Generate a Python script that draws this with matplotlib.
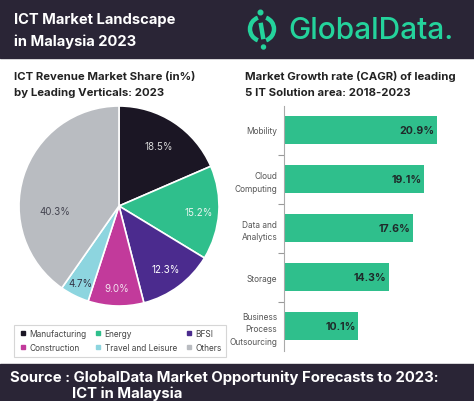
import matplotlib
matplotlib.use("Agg")
import matplotlib.pyplot as plt
from matplotlib.patches import Rectangle, Arc, Circle
from matplotlib.lines import Line2D
import numpy as np

# ---- data ----
pie_labels = ["Manufacturing", "Energy", "BFSI", "Construction", "Travel and Leisure", "Others"]
pie_values = [18.5, 15.2, 12.3, 9.0, 4.7, 40.3]
pie_colors = ["#1b1624", "#2fbf8c", "#4b2b8e", "#c23a9b", "#8dd5df", "#b9bcc1"]
pie_text_colors = ["#d8d8d8", "#e8f5ef", "#ffffff", "#f3e3ef", "#333344", "#444450"]

bar_labels = ["Mobility", "Cloud\nComputing", "Data and\nAnalytics", "Storage", "Business\nProcess\nOutsourcing"]
bar_values = [20.9, 19.1, 17.6, 14.3, 10.1]
bar_color = "#2fbf8c"

W, H = 474, 402
DARK = "#2a2536"
GREEN = "#24d39c"

fig = plt.figure(figsize=(W / 100, H / 100), dpi=100)
fig.patch.set_facecolor("white")

FONT = "Inter"

def box(x0, y0, x1, y1):
    return [x0 / W, 1 - y1 / H, (x1 - x0) / W, (y1 - y0) / H]

# background overlay in pixel coords
bg = fig.add_axes([0, 0, 1, 1], zorder=0)
bg.set_xlim(0, W)
bg.set_ylim(H, 0)
bg.axis("off")
bg.add_patch(Rectangle((0, 0), W, 59, color=DARK))
bg.add_patch(Rectangle((0, 365), W, 37, color=DARK))

bg.text(14, 20, "ICT Market Landscape", color="white", fontsize=10.6, fontweight="bold",
        family=FONT, va="center", ha="left")
bg.text(14, 42, "in Malaysia 2023", color="white", fontsize=10.6, fontweight="bold",
        family=FONT, va="center", ha="left")

# logo
cx, cy, r = 262, 30, 12
bg.add_patch(Arc((cx, cy), 2 * r, 2 * r, theta1=110, theta2=250, color=GREEN, lw=3.2))
bg.add_patch(Arc((cx, cy), 2 * r, 2 * r, theta1=-70, theta2=70, color=GREEN, lw=3.2))
bg.add_line(Line2D([cx - 1, cx + 1], [cy - 4, cy + 8], color=GREEN, lw=3.2))
bg.add_patch(Circle((cx - 1.5, cy - 16.5), 2.3, color=GREEN))
bg.add_patch(Circle((cx + 1.5, cy + 18), 2.0, color=GREEN))
bg.text(288, 31, "GlobalData.", color=GREEN, fontsize=21.5, fontweight="medium",
        family=FONT, va="center", ha="left")

bg.text(14, 77, "ICT Revenue Market Share (in%)", color="#222222", fontsize=8.2,
        fontweight="bold", family=FONT, va="center", ha="left")
bg.text(14, 93, "by Leading Verticals: 2023", color="#222222", fontsize=8.2,
        fontweight="bold", family=FONT, va="center", ha="left")
bg.text(245, 77, "Market Growth rate (CAGR) of leading", color="#222222", fontsize=8.2,
        fontweight="bold", family=FONT, va="center", ha="left")
bg.text(245, 93, "5 IT Solution area: 2018-2023", color="#222222", fontsize=8.2,
        fontweight="bold", family=FONT, va="center", ha="left")

bg.text(10, 378, "Source : GlobalData Market Opportunity Forecasts to 2023:", color="white",
        fontsize=10.7, fontweight="bold", family=FONT, va="center", ha="left")
bg.text(72, 394, "ICT in Malaysia", color="white",
        fontsize=10.7, fontweight="bold", family=FONT, va="center", ha="left")

# ---- pie ----
pax = fig.add_axes(box(19, 107, 219, 307), zorder=2)
wedges, texts = pax.pie(pie_values, colors=pie_colors, startangle=90, counterclock=False,
                        wedgeprops=dict(edgecolor="white", linewidth=1.2), radius=1.0)
pax.set_xlim(-1, 1)
pax.set_ylim(-1, 1)
pax.set_aspect("equal")
ang = 90.0
label_r = [0.72, 0.8, 0.78, 0.82, 0.86, 0.64]
label_shift = [0, 0, 0, 0, 0, 22]  # degrees, to match label placement
for i, v in enumerate(pie_values):
    mid = ang - v * 3.6 / 2 + label_shift[i]
    ang -= v * 3.6
    rr = label_r[i]
    pax.text(rr * np.cos(np.radians(mid)), rr * np.sin(np.radians(mid)), f"{v:.1f}%",
             ha="center", va="center", fontsize=7.0, color=pie_text_colors[i], family=FONT)

# legend
order = [0, 3, 1, 4, 2, 5]
handles = [Line2D([], [], marker="s", ls="", color=pie_colors[i], markersize=3.5) for i in order]
leg = fig.legend(handles, [pie_labels[i] for i in order], ncol=3,
                 loc="upper left", bbox_to_anchor=(10 / W, 1 - 322 / H),
                 frameon=True, fancybox=False, edgecolor="#cccccc",
                 prop=dict(family=FONT, size=6.0), handletextpad=0.3,
                 columnspacing=0.9, handlelength=1.0, borderpad=0.5, labelspacing=0.6,
                 labelcolor="#444444")
leg.get_frame().set_linewidth(0.8)

# ---- bars ----
bax = fig.add_axes(box(284, 106.5, 444, 351.5), zorder=2)
y = np.arange(len(bar_values))
bax.barh(y, bar_values, height=0.58, color=bar_color)
bax.set_ylim(len(bar_values) - 0.5, -0.5)
bax.set_xlim(0, 160 / 7.32)
bax.set_yticks(y)
bax.set_yticklabels(bar_labels, fontsize=6.0, color="#555555", family=FONT, linespacing=1.5)
bax.tick_params(axis="y", which="major", length=0, pad=5)
bax.set_yticks(np.arange(-0.5, len(bar_values), 1.0)[1:-1], minor=True)
bax.tick_params(axis="y", which="minor", length=4, color="#999999", width=0.8)
bax.set_xticks([])
for s in ["top", "right", "bottom"]:
    bax.spines[s].set_visible(False)
bax.spines["left"].set_color("#aaaaaa")
bax.spines["left"].set_linewidth(0.8)
for yi, v in zip(y, bar_values):
    bax.text(v - 0.3, yi, f"{v:.1f}%", ha="right", va="center", fontsize=7.6,
             fontweight="bold", color="#1f2a2a", family=FONT)

fig.savefig("out.png", dpi=100)
